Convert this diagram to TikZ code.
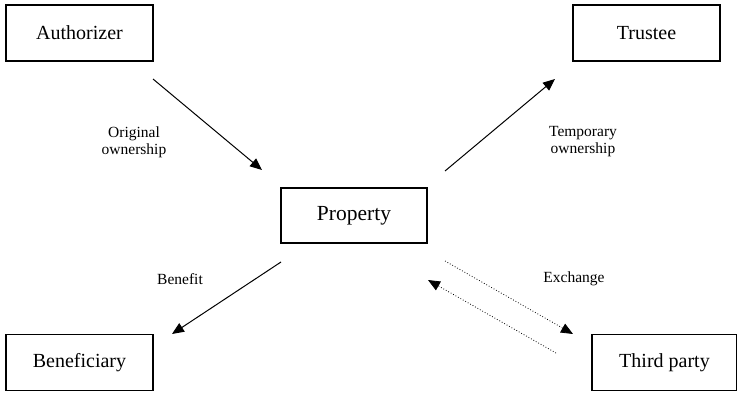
\documentclass[tikz,border=0pt]{standalone}
\usepackage{fontspec}
\setmainfont{Liberation Serif}
\usetikzlibrary{arrows.meta}
\begin{document}
\begin{tikzpicture}[x=1pt,y=-1pt,
  box/.style={draw,line width=1.2pt,minimum width=147pt,minimum height=56pt,inner sep=0pt,font=\fontsize{20}{23}\selectfont},
  lbl/.style={align=center,font=\fontsize{15.5}{17}\selectfont,inner sep=0pt},
  arr/.style={line width=1pt,-{Triangle[length=12pt,width=10pt]}},
  darr/.style={line width=0.8pt,dotted,-{Triangle[length=12pt,width=10pt]}}]
\useasboundingbox (0,0) rectangle (737,393);
\node[box] (auth) at (79.5,33) {Authorizer};
\node[box] (trust) at (646.5,33) {Trustee};
\node[box,minimum width=146pt,minimum height=55pt,font=\fontsize{21.5}{25}\selectfont] (prop) at (354,215.5) {Property};
\node[box] (bene) at (79.5,362.5) {Beneficiary};
\node[box,minimum width=145pt] (third) at (664.5,362.5) {Third party};
\coordinate (a1) at (153,79);
\coordinate (a2) at (262,170);
\coordinate (t1) at (445,171);
\coordinate (t2) at (555,79);
\coordinate (b1) at (281,262);
\coordinate (b2) at (172,334);
\coordinate (e1) at (445,261);
\coordinate (e2) at (573,334);
\coordinate (f1) at (556,353);
\coordinate (f2) at (428,280);
\draw[arr] (a1) -- (a2);
\draw[arr] (t1) -- (t2);
\draw[arr] (b1) -- (b2);
\draw[darr] (e1) -- (e2);
\draw[darr] (f1) -- (f2);
\node[lbl] (l1) at (134,142) {Original\\ownership};
\node[lbl] (l2) at (583,142) {Temporary\\ownership};
\node[lbl] (l3) at (180,279) {Benefit};
\node[lbl] (l4) at (574,279) {Exchange};
\end{tikzpicture}
\end{document}
